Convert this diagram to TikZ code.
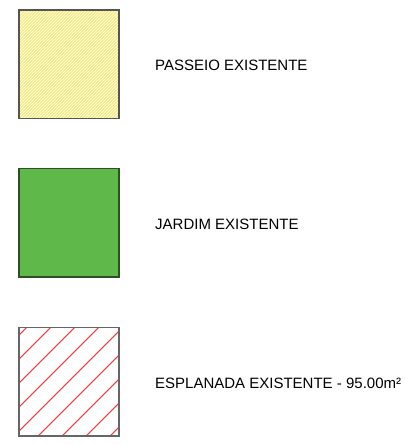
\documentclass[tikz,border=0pt]{standalone}
\usepackage{fontspec}
\setmainfont{Liberation Sans}
\definecolor{pyellow}{RGB}{245,237,125}
\definecolor{jgreen}{RGB}{94,185,74}
\definecolor{jborder}{RGB}{45,80,35}
\definecolor{ered}{RGB}{240,60,60}
\definecolor{bgray}{RGB}{85,85,85}
\tikzset{
  lbl/.style={anchor=base west, inner sep=0pt, font=\fontsize{15}{17}\selectfont},
  boxline/.style={line width=1.4pt}
}
\begin{document}
\begin{tikzpicture}[x=1pt,y=-1pt]
\useasboundingbox (0,0) rectangle (405,445);
% box 1 yellow hatch
\fill[pyellow] (19,10) rectangle (119,118.5);
\begin{scope}
\clip (19,10) rectangle (119,118.5);
\foreach \c in {28,31,...,240} {
  \draw[white, line width=0.5pt] (\c-130,130) -- (\c,0);
}
\end{scope}
\draw[bgray, boxline] (19,10) rectangle (119,118.5);
\node[lbl] (t1) at (155,70.5) {PASSEIO EXISTENTE};
% box 2 green
\draw[jborder, fill=jgreen, boxline] (19,168.5) rectangle (119,277);
\node[lbl] (t2) at (155,229) {JARDIM EXISTENTE};
% box 3 red hatch
\begin{scope}
\clip (19,327.7) rectangle (119,436);
\foreach \c in {354.2,378.2,...,550} {
  \draw[ered, line width=1.1pt] (\c-450,450) -- (\c-300,300);
}
\end{scope}
\draw[bgray!90, boxline] (19,327.7) rectangle (119,436);
\node[lbl] (t3) at (155,388.3) {ESPLANADA EXISTENTE - 95.00m²};
\end{tikzpicture}
\end{document}
